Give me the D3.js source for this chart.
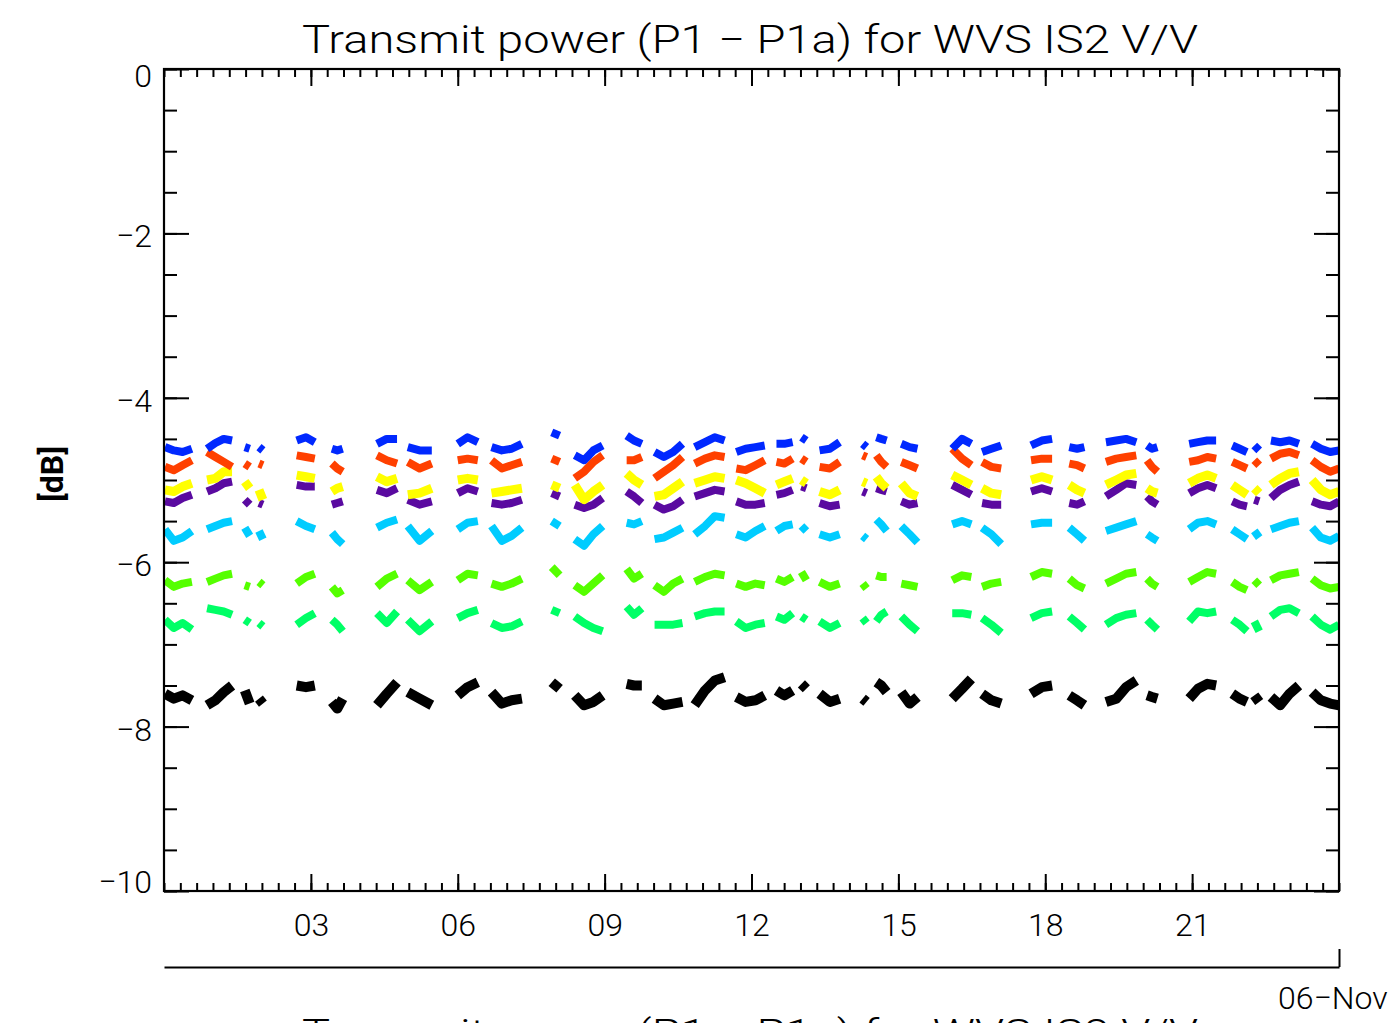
<!DOCTYPE html>
<html><head><meta charset="utf-8">
<script src="https://cdn.jsdelivr.net/npm/d3@7"></script>
<style>body{margin:0;background:#fff;overflow:hidden} svg{display:block}</style>
</head><body><svg id="c" width="1398" height="1023"></svg>
<script>
const titleText = "Transmit power (P1 − P1a) for WVS IS2 V/V";
const yAxisLabel = "[dB]";
const yTickValues = [0, -2, -4, -6, -8, -10];
const yTickLabels = ["0", "−2", "−4", "−6", "−8", "−10"];
const xTickValues = [3, 6, 9, 12, 15, 18, 21];
const xTickLabels = ["03", "06", "09", "12", "15", "18", "21"];
const dateLabel = "06−Nov";

// pass times (hours of the day)
const passTimes = [
 [0.02,0.2,0.38,0.57],[0.88,1.05,1.22,1.39],[1.65,1.75],[1.94,2.02],[2.71,2.90,3.08],
 [3.43,3.54,3.65],[4.35,4.55,4.76],[4.98,5.22,5.47],[6.0,6.2,6.41],[6.69,6.9,7.1,7.31],
 [7.92,8.08],[8.39,8.58,8.77,8.96],[9.45,9.6,9.76],[10.02,10.21,10.4,10.59],[10.84,11.05,11.25,11.45],
 [11.69,11.88,12.08,12.27],[12.51,12.67,12.84],[13.02,13.12],[13.39,13.6,13.8],[14.27,14.35],
 [14.55,14.65,14.76],[15.06,15.23,15.39],[16.1,16.3,16.49],[16.71,16.9,17.1],[17.71,17.93,18.14],
 [18.49,18.65,18.8],[19.24,19.45,19.65,19.86],[20.08,20.18,20.29],[20.94,21.12,21.31,21.49],[21.82,21.97,22.12],
 [22.27,22.37],[22.61,22.8,22.99,23.18],[23.45,23.63,23.82,24.0]
];

const blueVals = [
 [-4.60,-4.64,-4.66,-4.62],[-4.62,-4.55,-4.50,-4.52],[-4.60,-4.62],[-4.60,-4.64],[-4.52,-4.48,-4.54],
 [-4.62,-4.64,-4.62],[-4.56,-4.50,-4.50],[-4.60,-4.64,-4.64],[-4.56,-4.48,-4.54],[-4.60,-4.64,-4.62,-4.56],
 [-4.42,-4.46],[-4.70,-4.76,-4.64,-4.58],[-4.46,-4.52,-4.56],[-4.66,-4.72,-4.66,-4.56],[-4.60,-4.54,-4.48,-4.52],
 [-4.66,-4.62,-4.60,-4.58],[-4.56,-4.56,-4.54],[-4.48,-4.52],[-4.64,-4.62,-4.54],[-4.56,-4.60],
 [-4.48,-4.50,-4.52],[-4.56,-4.60,-4.62],[-4.62,-4.50,-4.56],[-4.66,-4.62,-4.58],[-4.58,-4.52,-4.50],
 [-4.60,-4.62,-4.60],[-4.54,-4.52,-4.50,-4.54],[-4.58,-4.62,-4.60],[-4.56,-4.54,-4.52,-4.52],[-4.58,-4.62,-4.66],
 [-4.58,-4.64],[-4.52,-4.54,-4.52,-4.56],[-4.56,-4.62,-4.66,-4.64]
];
const redVals = [
 [-4.84,-4.88,-4.82,-4.76],[-4.66,-4.72,-4.78,-4.84],[-4.80,-4.84],[-4.80,-4.82],[-4.70,-4.72,-4.74],
 [-4.80,-4.86,-4.90],[-4.70,-4.76,-4.80],[-4.78,-4.86,-4.80],[-4.76,-4.74,-4.76],[-4.76,-4.86,-4.82,-4.78],
 [-4.74,-4.78],[-4.98,-4.90,-4.78,-4.70],[-4.76,-4.76,-4.72],[-4.98,-4.90,-4.82,-4.72],[-4.80,-4.74,-4.70,-4.72],
 [-4.86,-4.88,-4.82,-4.76],[-4.78,-4.80,-4.74],[-4.74,-4.78],[-4.84,-4.86,-4.78],[-4.70,-4.72],
 [-4.70,-4.78,-4.84],[-4.78,-4.82,-4.86],[-4.62,-4.74,-4.82],[-4.78,-4.84,-4.86],[-4.76,-4.74,-4.74],
 [-4.80,-4.82,-4.86],[-4.78,-4.74,-4.72,-4.70],[-4.76,-4.84,-4.90],[-4.78,-4.76,-4.72,-4.74],[-4.78,-4.82,-4.86],
 [-4.76,-4.82],[-4.74,-4.68,-4.66,-4.70],[-4.76,-4.84,-4.90,-4.86]
];
const yellowVals = [
 [-5.12,-5.14,-5.08,-5.04],[-5.00,-4.98,-4.90,-4.90],[-5.02,-5.10],[-5.12,-5.24],[-4.94,-4.96,-4.98],
 [-5.14,-5.10,-5.08],[-4.96,-5.02,-4.98],[-5.18,-5.16,-5.10],[-5.00,-4.98,-5.00],[-5.16,-5.14,-5.12,-5.10],
 [-5.06,-5.10],[-5.06,-5.24,-5.14,-5.06],[-4.92,-5.00,-5.06],[-5.20,-5.18,-5.10,-5.02],[-5.04,-5.00,-4.96,-4.98],
 [-5.00,-5.04,-5.10,-5.16],[-5.06,-5.02,-4.98],[-5.00,-5.04],[-5.14,-5.18,-5.12],[-5.02,-5.04],
 [-4.96,-5.04,-5.10],[-5.04,-5.16,-5.20],[-4.94,-5.00,-5.06],[-5.10,-5.16,-5.18],[-5.00,-4.96,-5.00],
 [-5.06,-5.12,-5.16],[-5.06,-5.00,-4.94,-4.92],[-5.10,-5.14,-5.16],[-5.04,-4.98,-4.94,-4.98],[-5.06,-5.12,-5.18],
 [-5.10,-5.16],[-5.06,-4.98,-4.92,-4.90],[-5.00,-5.12,-5.18,-5.14]
];
const purpleVals = [
 [-5.26,-5.28,-5.22,-5.18],[-5.14,-5.10,-5.04,-5.02],[-5.24,-5.30],[-5.28,-5.30],[-5.06,-5.08,-5.08],
 [-5.30,-5.28,-5.26],[-5.12,-5.16,-5.10],[-5.24,-5.30,-5.26],[-5.16,-5.10,-5.14],[-5.28,-5.30,-5.28,-5.24],
 [-5.16,-5.20],[-5.30,-5.34,-5.30,-5.22],[-5.14,-5.20,-5.28],[-5.30,-5.36,-5.32,-5.24],[-5.20,-5.16,-5.12,-5.14],
 [-5.26,-5.30,-5.30,-5.28],[-5.18,-5.16,-5.12],[-5.08,-5.10],[-5.28,-5.32,-5.30],[-5.14,-5.16],
 [-5.10,-5.12,-5.14],[-5.26,-5.30,-5.28],[-5.06,-5.12,-5.18],[-5.28,-5.30,-5.30],[-5.14,-5.10,-5.14],
 [-5.28,-5.30,-5.26],[-5.20,-5.12,-5.04,-5.06],[-5.20,-5.26,-5.30],[-5.16,-5.10,-5.06,-5.10],[-5.26,-5.30,-5.32],
 [-5.24,-5.26],[-5.22,-5.12,-5.06,-5.02],[-5.26,-5.30,-5.32,-5.26]
];
const cyanVals = [
 [-5.60,-5.74,-5.70,-5.62],[-5.60,-5.56,-5.52,-5.50],[-5.58,-5.68],[-5.62,-5.72],[-5.50,-5.56,-5.60],
 [-5.64,-5.72,-5.78],[-5.58,-5.52,-5.48],[-5.56,-5.74,-5.62],[-5.60,-5.52,-5.50],[-5.56,-5.74,-5.68,-5.58],
 [-5.50,-5.56],[-5.72,-5.80,-5.66,-5.56],[-5.52,-5.54,-5.50],[-5.72,-5.70,-5.64,-5.58],[-5.66,-5.56,-5.44,-5.46],
 [-5.66,-5.70,-5.62,-5.56],[-5.62,-5.56,-5.54],[-5.56,-5.62],[-5.66,-5.70,-5.66],[-5.68,-5.72],
 [-5.48,-5.54,-5.62],[-5.56,-5.66,-5.76],[-5.54,-5.50,-5.54],[-5.58,-5.66,-5.78],[-5.54,-5.52,-5.52],
 [-5.58,-5.66,-5.74],[-5.62,-5.58,-5.54,-5.50],[-5.66,-5.70,-5.74],[-5.60,-5.52,-5.50,-5.54],[-5.60,-5.66,-5.72],
 [-5.62,-5.70],[-5.60,-5.56,-5.52,-5.50],[-5.58,-5.70,-5.74,-5.68]
];
const greenVals = [
 [-6.22,-6.30,-6.26,-6.24],[-6.24,-6.20,-6.16,-6.14],[-6.28,-6.30],[-6.24,-6.28],[-6.26,-6.18,-6.14],
 [-6.30,-6.38,-6.34],[-6.30,-6.20,-6.14],[-6.22,-6.34,-6.24],[-6.22,-6.14,-6.16],[-6.26,-6.30,-6.26,-6.20],
 [-6.06,-6.16],[-6.28,-6.36,-6.26,-6.16],[-6.08,-6.20,-6.14],[-6.28,-6.36,-6.26,-6.20],[-6.24,-6.18,-6.14,-6.16],
 [-6.26,-6.30,-6.26,-6.28],[-6.20,-6.24,-6.18],[-6.12,-6.22],[-6.24,-6.30,-6.26],[-6.26,-6.32],
 [-6.16,-6.18,-6.18],[-6.26,-6.28,-6.30],[-6.22,-6.16,-6.18],[-6.30,-6.26,-6.24],[-6.18,-6.12,-6.14],
 [-6.20,-6.28,-6.32],[-6.26,-6.20,-6.14,-6.12],[-6.20,-6.26,-6.30],[-6.24,-6.18,-6.12,-6.14],[-6.24,-6.30,-6.34],
 [-6.22,-6.28],[-6.22,-6.16,-6.14,-6.12],[-6.20,-6.28,-6.32,-6.30]
];
const springVals = [
 [-6.70,-6.80,-6.74,-6.82],[-6.56,-6.58,-6.60,-6.64],[-6.70,-6.74],[-6.74,-6.78],[-6.76,-6.68,-6.62],
 [-6.70,-6.76,-6.84],[-6.62,-6.74,-6.60],[-6.70,-6.84,-6.72],[-6.68,-6.62,-6.58],[-6.74,-6.80,-6.78,-6.72],
 [-6.58,-6.62],[-6.66,-6.74,-6.80,-6.84],[-6.54,-6.64,-6.56],[-6.76,-6.76,-6.76,-6.74],[-6.66,-6.62,-6.60,-6.60],
 [-6.72,-6.80,-6.76,-6.74],[-6.66,-6.70,-6.62],[-6.66,-6.70],[-6.72,-6.80,-6.74],[-6.68,-6.74],
 [-6.72,-6.64,-6.60],[-6.66,-6.76,-6.84],[-6.62,-6.62,-6.64],[-6.68,-6.76,-6.86],[-6.68,-6.62,-6.60],
 [-6.66,-6.74,-6.82],[-6.76,-6.68,-6.64,-6.62],[-6.70,-6.76,-6.82],[-6.72,-6.60,-6.62,-6.60],[-6.70,-6.76,-6.84],
 [-6.72,-6.84],[-6.66,-6.58,-6.56,-6.62],[-6.66,-6.76,-6.82,-6.76]
];
const blackVals = [
 [-7.60,-7.66,-7.62,-7.68],[-7.74,-7.68,-7.58,-7.50],[-7.56,-7.72],[-7.66,-7.72],[-7.50,-7.52,-7.50],
 [-7.70,-7.78,-7.66],[-7.74,-7.60,-7.46],[-7.58,-7.66,-7.74],[-7.62,-7.52,-7.46],[-7.58,-7.72,-7.68,-7.66],
 [-7.46,-7.54],[-7.62,-7.74,-7.70,-7.62],[-7.48,-7.50,-7.50],[-7.66,-7.74,-7.72,-7.70],[-7.74,-7.56,-7.44,-7.40],
 [-7.64,-7.70,-7.68,-7.62],[-7.56,-7.62,-7.56],[-7.48,-7.54],[-7.60,-7.70,-7.66],[-7.66,-7.70],
 [-7.46,-7.50,-7.58],[-7.58,-7.72,-7.64],[-7.66,-7.54,-7.42],[-7.60,-7.68,-7.72],[-7.60,-7.52,-7.50],
 [-7.62,-7.68,-7.74],[-7.70,-7.66,-7.52,-7.44],[-7.62,-7.64,-7.66],[-7.66,-7.54,-7.48,-7.50],[-7.60,-7.66,-7.70],
 [-7.62,-7.70],[-7.64,-7.74,-7.60,-7.50],[-7.58,-7.68,-7.72,-7.74]
];

const seriesList = [
 {vals: blackVals,  color: "#000000", w: 10},
 {vals: springVals, color: "#00ff66", w: 8},
 {vals: greenVals,  color: "#55ff00", w: 8},
 {vals: cyanVals,   color: "#00ccff", w: 8},
 {vals: purpleVals, color: "#5a0aa0", w: 8},
 {vals: yellowVals, color: "#ffff00", w: 9},
 {vals: redVals,    color: "#ff4000", w: 8},
 {vals: blueVals,   color: "#0028ff", w: 8}
];

const FONT = "Roboto, 'Liberation Sans', Arial, sans-serif";
const svg = d3.select("#c");
const L = 164, R = 1339, T = 69, B = 891;
const x = d3.scaleLinear().domain([0, 24]).range([L, R]);
const y = d3.scaleLinear().domain([-10, 0]).range([B, T]);

svg.append("rect").attr("width", 1398).attr("height", 1023).attr("fill", "#fff");

// data
svg.append("clipPath").attr("id", "clip").append("rect")
  .attr("x", L).attr("y", T).attr("width", R - L).attr("height", B - T);
const gData = svg.append("g").attr("clip-path", "url(#clip)");
const line = d3.line().x(d => x(d[0])).y(d => y(d[1]));
seriesList.forEach(s => {
  passTimes.forEach((ts, i) => {
    const pts = ts.map((t, j) => [t, s.vals[i][j]]);
    gData.append("path").attr("d", line(pts))
      .attr("fill", "none").attr("stroke", s.color)
      .attr("stroke-width", s.w).attr("stroke-linecap", "butt")
      .attr("stroke-linejoin", "round");
  });
});

function styleAxis(g) {
  g.select(".domain").remove();
  g.selectAll("line").attr("stroke", "#000").attr("stroke-width", 2);
  g.selectAll("text").attr("fill", "#000").style("font-family", FONT)
    .style("font-weight", "300").style("font-size", "32px");
}

const minorX = d3.range(0, 24 * 3 + 1).map(i => i / 3);
const minorY = d3.range(0, 21).map(i => -i * 0.5);

// bottom
svg.append("g").attr("transform", `translate(0,${B})`)
  .call(d3.axisBottom(x).tickValues(minorX).tickFormat("").tickSizeInner(-8).tickSizeOuter(0)).call(styleAxis);
svg.append("g").attr("transform", `translate(0,${B})`)
  .call(d3.axisBottom(x).tickValues(xTickValues).tickFormat((d, i) => xTickLabels[i])
    .tickSizeInner(-17).tickSizeOuter(0).tickPadding(22)).call(styleAxis);
// top
svg.append("g").attr("transform", `translate(0,${T})`)
  .call(d3.axisTop(x).tickValues(minorX).tickFormat("").tickSizeInner(-8).tickSizeOuter(0)).call(styleAxis);
svg.append("g").attr("transform", `translate(0,${T})`)
  .call(d3.axisTop(x).tickValues(xTickValues).tickFormat("").tickSizeInner(-17).tickSizeOuter(0)).call(styleAxis);
// left
svg.append("g").attr("transform", `translate(${L},0)`)
  .call(d3.axisLeft(y).tickValues(minorY).tickFormat("").tickSizeInner(-13).tickSizeOuter(0)).call(styleAxis);
const gl = svg.append("g").attr("transform", `translate(${L},0)`)
  .call(d3.axisLeft(y).tickValues(yTickValues).tickFormat((d, i) => yTickLabels[i])
    .tickSizeInner(-25).tickSizeOuter(0).tickPadding(12)).call(styleAxis);
gl.selectAll("text").attr("dy", (d) => d === 0 ? "0.55em" : d === -10 ? "0.05em" : "0.42em");
// right
svg.append("g").attr("transform", `translate(${R},0)`)
  .call(d3.axisRight(y).tickValues(minorY).tickFormat("").tickSizeInner(-13).tickSizeOuter(0)).call(styleAxis);
svg.append("g").attr("transform", `translate(${R},0)`)
  .call(d3.axisRight(y).tickValues(yTickValues).tickFormat("").tickSizeInner(-25).tickSizeOuter(0)).call(styleAxis);

// frame
svg.append("rect").attr("x", L).attr("y", T).attr("width", R - L).attr("height", B - T)
  .attr("fill", "none").attr("stroke", "#000").attr("stroke-width", 2.2);

// date axis below
const gDate = svg.append("g").attr("transform", `translate(0,967)`)
  .call(d3.axisTop(x).tickValues([24]).tickFormat("").tickSizeInner(18).tickSizeOuter(0));
gDate.select(".domain").attr("stroke", "#000").attr("stroke-width", 2.2);
gDate.selectAll("line").attr("stroke", "#000").attr("stroke-width", 2);
svg.append("text").attr("x", 1278).attr("y", 1009).text(dateLabel)
  .style("font-family", FONT).style("font-weight", "300").style("font-size", "32px")
  .attr("fill", "#000");

// title
svg.append("text").attr("x", 302).attr("y", 53).text(titleText)
  .attr("textLength", 896).attr("lengthAdjust", "spacingAndGlyphs")
  .style("font-family", FONT).style("font-weight", "300").style("font-size", "39px").attr("fill", "#000");
svg.append("text").attr("x", 302).attr("y", 1047).text(titleText)
  .attr("textLength", 896).attr("lengthAdjust", "spacingAndGlyphs")
  .style("font-family", FONT).style("font-weight", "300").style("font-size", "39px").attr("fill", "#000");

// y label
svg.append("text").attr("transform", "translate(63,474) rotate(-90)")
  .attr("text-anchor", "middle").text(yAxisLabel)
  .style("font-family", FONT).style("font-size", "32px").style("font-weight", "bold").attr("fill", "#000");
</script></body></html>
